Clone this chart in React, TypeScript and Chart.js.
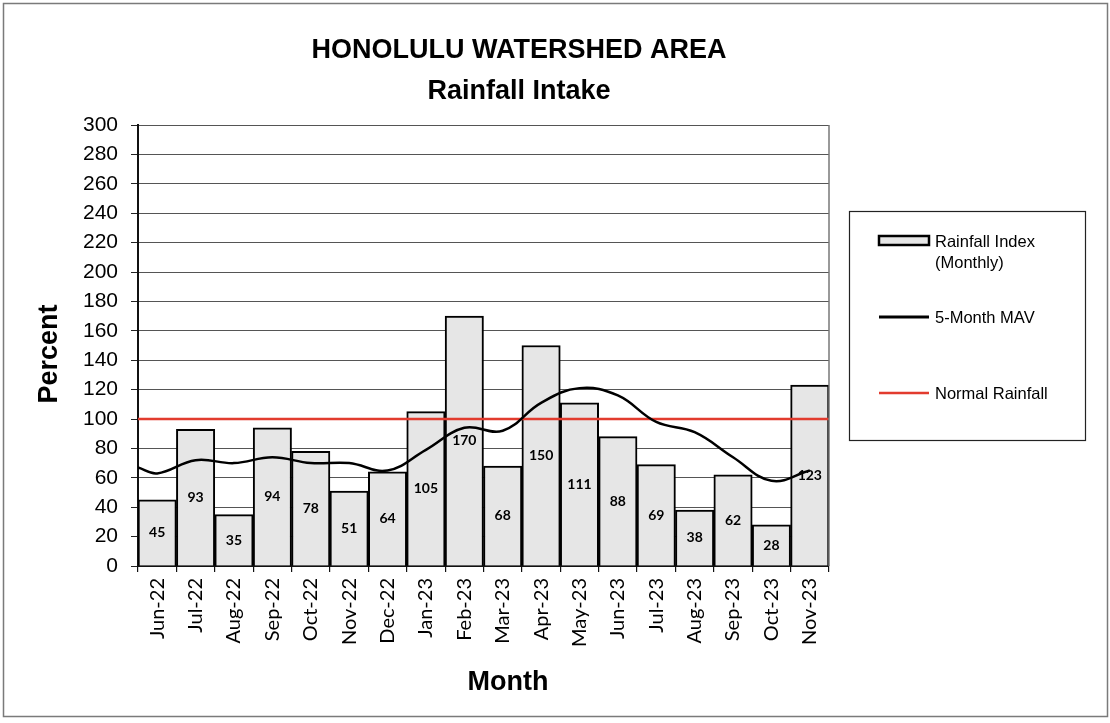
import React, { useEffect, useRef } from "react";
import { Chart, registerables } from "chart.js";

Chart.register(...registerables);

const months = ["Jun-22","Jul-22","Aug-22","Sep-22","Oct-22","Nov-22","Dec-22","Jan-23","Feb-23","Mar-23","Apr-23","May-23","Jun-23","Jul-23","Aug-23","Sep-23","Oct-23","Nov-23"];
const rainfallIndex = [45,93,35,94,78,51,64,105,170,68,150,111,88,69,38,62,28,123];
// 5-month moving average (first value at the left plot edge)
const mavStart = 67;
const mavValues = [63,72,70,74,70,70,65,79,94,92,111,121,116,98,91,74,58,65];
const normalRainfall = 100;
const yTicks = { min: 0, max: 300, step: 20 };
const titleLines = ["HONOLULU WATERSHED AREA", "Rainfall Intake"];
const legendLabels = [["Rainfall Index", "(Monthly)"], ["5-Month MAV"], ["Normal Rainfall"]];

const BAR_FILL = "#e6e6e6";
const RED = "#e23b2e";

export default function App() {
  const ref = useRef<HTMLCanvasElement | null>(null);
  useEffect(() => {
    document.body.style.margin = "0";
    const canvas = ref.current!;
    const decor = {
      id: "decor",
      afterDatasetsDraw(chart: any) {
        const ctx = chart.ctx;
        const meta = chart.getDatasetMeta(2);
        ctx.save();
        ctx.fillStyle = "#000";
        ctx.font = "bold 14px Lato";
        ctx.textAlign = "center";
        ctx.textBaseline = "middle";
        meta.data.forEach((el: any, i: number) => {
          const p = el.getProps(["x", "y", "base"], true);
          ctx.fillText(String(rainfallIndex[i]), p.x, (p.y + p.base) / 2);
        });
        ctx.restore();
      },
      afterDraw(chart: any) {
        const ctx = chart.ctx;
        const a = chart.chartArea;
        ctx.save();
        // right border of plot
        ctx.strokeStyle = "#777";
        ctx.lineWidth = 1.5;
        ctx.beginPath();
        ctx.moveTo(a.right, a.top);
        ctx.lineTo(a.right, a.bottom);
        ctx.stroke();
        // outer frame
        ctx.strokeStyle = "#7a7a7a";
        ctx.lineWidth = 1.5;
        ctx.strokeRect(3.5, 3.5, 1104, 713);
        // title
        ctx.fillStyle = "#000";
        ctx.textAlign = "center";
        ctx.textBaseline = "alphabetic";
        ctx.font = "bold 27px 'Liberation Sans', Arial";
        ctx.fillText(titleLines[0], 519, 58);
        ctx.fillText(titleLines[1], 519, 99);
        // axis titles
        ctx.fillText("Month", 508, 690);
        ctx.save();
        ctx.translate(57, 354);
        ctx.rotate(-Math.PI / 2);
        ctx.fillText("Percent", 0, 0);
        ctx.restore();
        // legend box
        ctx.strokeStyle = "#222";
        ctx.lineWidth = 1.2;
        ctx.strokeRect(849.5, 211.5, 236, 229);
        // bar swatch
        ctx.fillStyle = BAR_FILL;
        ctx.fillRect(879, 236, 50, 9);
        ctx.strokeStyle = "#000";
        ctx.lineWidth = 2.5;
        ctx.strokeRect(879, 236, 50, 9);
        // MAV swatch
        ctx.lineWidth = 3;
        ctx.beginPath();
        ctx.moveTo(879, 317);
        ctx.lineTo(929, 317);
        ctx.stroke();
        // normal swatch
        ctx.strokeStyle = RED;
        ctx.lineWidth = 2.5;
        ctx.beginPath();
        ctx.moveTo(879, 393);
        ctx.lineTo(929, 393);
        ctx.stroke();
        ctx.fillStyle = "#000";
        ctx.textAlign = "left";
        ctx.font = "16.5px 'Liberation Sans', Arial";
        ctx.fillText(legendLabels[0][0], 935, 247);
        ctx.fillText(legendLabels[0][1], 935, 268);
        ctx.fillText(legendLabels[1][0], 935, 323);
        ctx.fillText(legendLabels[2][0], 935, 399);
        ctx.restore();
      },
    };

    const chart = new Chart(canvas, {
      type: "bar",
      data: {
        labels: months,
        datasets: [
          {
            type: "line",
            label: "5-Month MAV",
            data: [{ x: -0.5, y: mavStart }, ...mavValues.map((v, i) => ({ x: i, y: v }))],
            xAxisID: "x2",
            borderColor: "#000",
            borderWidth: 2.5,
            pointRadius: 0,
            tension: 0.4,
            fill: false,
            order: 1,
          } as any,
          {
            type: "line",
            label: "Normal Rainfall",
            data: [{ x: -0.5, y: normalRainfall }, { x: months.length - 0.5, y: normalRainfall }],
            xAxisID: "x2",
            borderColor: RED,
            borderWidth: 2.5,
            pointRadius: 0,
            fill: false,
            order: 2,
          } as any,
          {
            type: "bar",
            label: "Rainfall Index (Monthly)",
            data: rainfallIndex,
            xAxisID: "x",
            backgroundColor: BAR_FILL,
            borderColor: "#000",
            borderWidth: 2,
            barPercentage: 1,
            categoryPercentage: 1,
            grouped: false,
            order: 3,
          },
        ],
      },
      options: {
        animation: false,
        responsive: false,
        events: [],
        layout: { padding: { left: 0, top: 125, right: 281, bottom: 0 } },
        plugins: { legend: { display: false }, title: { display: false }, tooltip: { enabled: false } },
        scales: {
          x: {
            type: "category",
            offset: true,
            grid: { display: true, drawOnChartArea: false, drawTicks: true, tickLength: 6, color: "#111", offset: true, lineWidth: 1.2 },
            border: { display: true, color: "#111", width: 2 },
            ticks: { maxRotation: 90, minRotation: 90, autoSkip: false, padding: 6, color: "#000", font: { family: "Lato", size: 20 } },
            afterFit: (s: any) => { s.height = 157; },
          },
          x2: {
            type: "linear",
            display: false,
            offset: false,
            grid: { offset: false },
            min: -0.5,
            max: months.length - 0.5,
          },
          y: {
            min: yTicks.min,
            max: yTicks.max,
            ticks: { stepSize: yTicks.step, padding: 13, color: "#000", font: { family: "'Liberation Sans', Arial", size: 21 } },
            grid: { color: "#555", lineWidth: 1, tickLength: 7, tickColor: "#222" },
            border: { display: true, color: "#111", width: 2 },
            afterFit: (s: any) => { s.width = 138; },
          },
        },
      },
      plugins: [decor],
    } as any);
    return () => chart.destroy();
  }, []);
  return (
    <div style={{ width: 1110, height: 723, background: "#fff" }}>
      <canvas ref={ref} width={1110} height={723} style={{ display: "block" }} />
    </div>
  );
}
